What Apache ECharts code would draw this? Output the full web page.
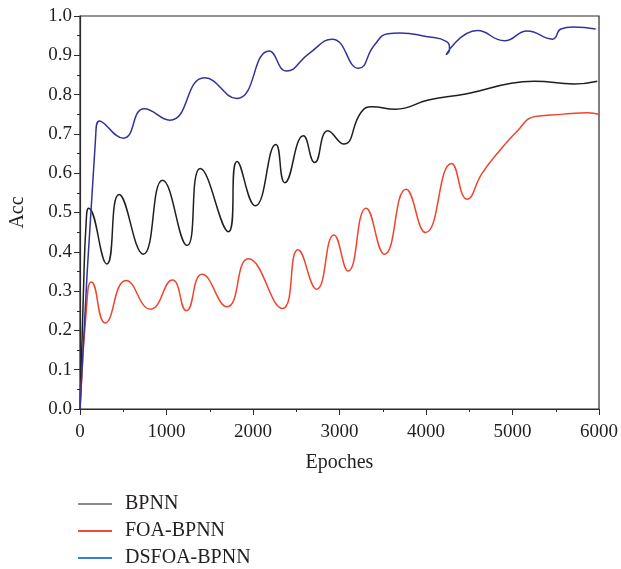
<!DOCTYPE html>
<html>
<head>
<meta charset="utf-8">
<script src="https://cdn.jsdelivr.net/npm/echarts@6/dist/echarts.min.js"></script>
<style>
  html, body { margin: 0; padding: 0; background: #fff; }
  #chart { width: 621px; height: 569px; }
</style>
</head>
<body>
<div id="chart"></div>
<script>
// Training accuracy per epoch for the three networks
const seriesNames = ['BPNN', 'FOA-BPNN', 'DSFOA-BPNN'];

const bpnnEpochs = [0, 40, 70, 100, 310, 452, 732, 954, 1238, 1391, 1716, 1816, 2027, 2264, 2368, 2583, 2713, 2866, 3050, 3250, 3376, 3644, 4027, 4487, 4985, 5253, 5713, 5980];
const bpnnAcc    = [0, 0.30, 0.47, 0.511, 0.369, 0.546, 0.394, 0.582, 0.416, 0.612, 0.451, 0.630, 0.517, 0.673, 0.576, 0.695, 0.627, 0.708, 0.674, 0.755, 0.769, 0.763, 0.786, 0.803, 0.829, 0.834, 0.827, 0.834];

const foaEpochs = [0, 90, 130, 291, 533, 816, 1069, 1230, 1410, 1701, 1946, 2341, 2521, 2736, 2935, 3100, 3307, 3521, 3770, 3996, 4295, 4475, 4650, 4850, 5050, 5253, 5445, 5636, 5866, 6000];
const foaAcc    = [0, 0.30, 0.323, 0.219, 0.327, 0.254, 0.328, 0.250, 0.343, 0.260, 0.382, 0.256, 0.405, 0.305, 0.443, 0.351, 0.511, 0.394, 0.559, 0.449, 0.625, 0.534, 0.600, 0.657, 0.706, 0.744, 0.748, 0.751, 0.754, 0.750];

const dsfoaEpochs = [0, 180, 225, 502, 743, 1038, 1440, 1812, 2188, 2387, 2650, 2916, 3222, 3400, 3560, 3700, 4000, 4238, 4272, 4232, 4594, 4908, 5169, 5463, 5560, 5700, 5962];
const dsfoaAcc    = [0, 0.69, 0.733, 0.689, 0.764, 0.735, 0.843, 0.790, 0.911, 0.860, 0.905, 0.941, 0.867, 0.925, 0.955, 0.957, 0.948, 0.935, 0.915, 0.902, 0.963, 0.937, 0.962, 0.941, 0.967, 0.972, 0.967];

const xTicks = [0, 1000, 2000, 3000, 4000, 5000, 6000];
const yTicks = [0, 0.1, 0.2, 0.3, 0.4, 0.5, 0.6, 0.7, 0.8, 0.9, 1.0];

const lineColors   = ['#1f1f1f', '#f0442c', '#33349a'];
const legendColors = ['#8a8a8a', '#f04a3a', '#3a7fd2'];

function pairs(xs, ys) { return xs.map((x, i) => [x, ys[i]]); }

const FONT = '"Liberation Serif", "DejaVu Serif", serif';
const AXIS_COLOR = '#2b2b2b';
const TEXT_COLOR = '#231f20';

const chart = echarts.init(document.getElementById('chart'), null, { renderer: 'canvas' });

chart.setOption({
  animation: false,
  backgroundColor: '#ffffff',
  grid: {
    left: 78, right: 21, top: 16, bottom: 160,
    show: true, borderColor: AXIS_COLOR, borderWidth: 1.2, backgroundColor: 'transparent'
  },
  xAxis: {
    type: 'value',
    min: xTicks[0], max: xTicks[xTicks.length - 1], interval: 1000,
    name: 'Epoches', nameLocation: 'middle', nameGap: 44,
    nameTextStyle: { fontFamily: FONT, fontSize: 20, color: TEXT_COLOR },
    axisLine: { show: true, lineStyle: { color: AXIS_COLOR, width: 1.2 } },
    axisTick: { show: true, inside: false, length: 6, lineStyle: { color: AXIS_COLOR } },
    minorTick: { show: true, splitNumber: 2, length: 3, lineStyle: { color: AXIS_COLOR } },
    axisLabel: {
      fontFamily: FONT, fontSize: 19, color: TEXT_COLOR, margin: 14,
      formatter: v => String(v)
    },
    splitLine: { show: false }
  },
  yAxis: {
    type: 'value',
    min: yTicks[0], max: yTicks[yTicks.length - 1], interval: 0.1,
    name: 'Acc', nameLocation: 'middle', nameGap: 52, nameRotate: 90,
    nameTextStyle: { fontFamily: FONT, fontSize: 20, color: TEXT_COLOR },
    axisLine: { show: true, lineStyle: { color: AXIS_COLOR, width: 1.2 } },
    axisTick: { show: true, inside: false, length: 6, lineStyle: { color: AXIS_COLOR } },
    minorTick: { show: true, splitNumber: 2, length: 3, lineStyle: { color: AXIS_COLOR } },
    axisLabel: {
      fontFamily: FONT, fontSize: 19, color: TEXT_COLOR, margin: 8,
      formatter: v => v.toFixed(1)
    },
    splitLine: { show: false }
  },
  legend: {
    orient: 'vertical', left: 78, top: 494, padding: 0,
    itemWidth: 34, itemHeight: 14, itemGap: 7,
    textStyle: { fontFamily: FONT, fontSize: 20, lineHeight: 20, color: TEXT_COLOR, padding: [0, 0, 0, 8] },
    data: seriesNames.map((n, i) => ({
      name: n,
      icon: 'path://M0,0 L34,0 L34,2 L0,2 Z',
      itemStyle: { color: legendColors[i] },
      lineStyle: { color: legendColors[i], width: 2 }
    }))
  },
  series: [
    { name: seriesNames[0], data: pairs(bpnnEpochs, bpnnAcc) },
    { name: seriesNames[1], data: pairs(foaEpochs, foaAcc) },
    { name: seriesNames[2], data: pairs(dsfoaEpochs, dsfoaAcc) }
  ].map((s, i) => Object.assign(s, {
    type: 'line', smooth: 0.5, symbol: 'none', clip: true,
    lineStyle: { color: lineColors[i], width: 1.5 },
    itemStyle: { color: lineColors[i] }
  }))
});
</script>
</body>
</html>
